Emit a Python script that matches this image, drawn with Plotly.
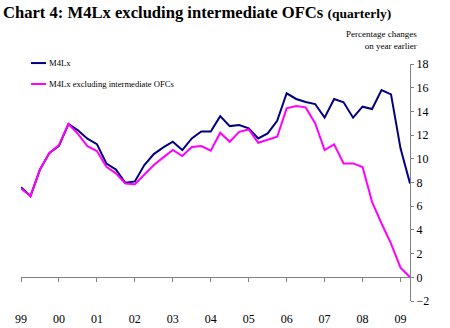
import plotly.graph_objects as go

# Quarterly observations 1999 Q1 .. 2009 Q2
years = [y for y in range(1999, 2010) for _ in range(4)][:42]
quarters = [q for _ in range(1999, 2010) for q in range(1, 5)][:42]

m4lx = [7.6, 6.85, 9.1, 10.5, 11.1, 12.93, 12.4, 11.7, 11.24, 9.6,
        9.1, 7.97, 8.09, 9.47, 10.4, 10.96, 11.44, 10.74, 11.72, 12.3,
        12.3, 13.6, 12.76, 12.85, 12.57, 11.72, 12.14, 13.2, 15.53, 15.05,
        14.8, 14.62, 13.47, 15.05, 14.77, 13.47, 14.4, 14.2, 15.8, 15.44,
        10.88, 7.92]
m4lx_ex = [7.5, 6.85, 9.1, 10.5, 11.16, 12.93, 12.1, 11.07, 10.65, 9.33,
           8.77, 7.92, 7.86, 8.7, 9.47, 10.12, 10.74, 10.23, 11.0, 11.07,
           10.68, 12.2, 11.44, 12.28, 12.48, 11.35, 11.63, 11.86, 14.26, 14.45,
           14.34, 13.0, 10.74, 11.22, 9.61, 9.61, 9.3, 6.37, 4.54, 2.85,
           0.82, 0.0]

tick_years = list(range(1999, 2010))
tick_labels = ["99", "00", "01", "02", "03", "04", "05", "06", "07", "08", "09"]
y_ticks = list(range(-2, 19, 2))

series_names = ["M4Lx", "M4Lx excluding intermediate OFCs"]
series_colors = ["#000080", "#ff00ff"]

x = [y + (q - 1) / 4 for y, q in zip(years, quarters)]

FONT = "Liberation Serif, Times New Roman, serif"
fig = go.Figure()
for name, vals, col in zip(series_names, [m4lx, m4lx_ex], series_colors):
    fig.add_trace(go.Scatter(x=x, y=vals, mode="lines", name=name,
                             line=dict(color=col, width=2), showlegend=False))

# manual legend (short sample lines like the original)
leg_y = [1.004, 0.9156]
for name, col, ly in zip(series_names, series_colors, leg_y):
    fig.add_shape(type="line", xref="paper", yref="paper",
                  x0=0.0257, x1=0.0643, y0=ly, y1=ly,
                  line=dict(color=col, width=2))
    fig.add_annotation(xref="paper", yref="paper", x=0.066, y=ly,
                       xanchor="left", yanchor="middle", showarrow=False,
                       text=name, font=dict(family=FONT, size=8.6, color="black"))

fig.add_annotation(xref="paper", yref="paper", x=1.023, y=1.101,
                   xanchor="right", yanchor="middle", showarrow=False, align="right",
                   text="Percentage changes<br>on year earlier",
                   font=dict(family=FONT, size=9, color="black"))

fig.update_layout(
    width=450, height=328,
    margin=dict(l=21, r=40, t=64, b=27, autoexpand=False),
    paper_bgcolor="white", plot_bgcolor="white",
    font=dict(family=FONT, color="black"),
    title=dict(text="<b>Chart 4: M4Lx excluding intermediate OFCs <span style='font-size:13.5px'>(quarterly)</span></b>",
               x=3 / 450, xanchor="left", xref="container",
               y=1 - 12 / 328, yanchor="middle", yref="container",
               automargin=False,
               font=dict(family=FONT, size=16.6, color="black")),
    xaxis=dict(range=[1999, 2009.25], tickvals=tick_years, ticktext=tick_labels,
               anchor="free", position=0.1, showline=True, linecolor="#808080",
               linewidth=1, ticks="outside", ticklen=4, tickcolor="#808080",
               showgrid=False, zeroline=False, ticklabelstandoff=26,
               automargin=False,
               tickfont=dict(family=FONT, size=12, color="black")),
    yaxis=dict(range=[-2, 18], tickvals=y_ticks, side="right", showline=True,
               linecolor="#808080", linewidth=1, ticks="outside", ticklen=3,
               tickcolor="#808080", showgrid=False, zeroline=False,
               automargin=False,
               tickfont=dict(family=FONT, size=12, color="black")),
)

fig.write_html("out.html")
